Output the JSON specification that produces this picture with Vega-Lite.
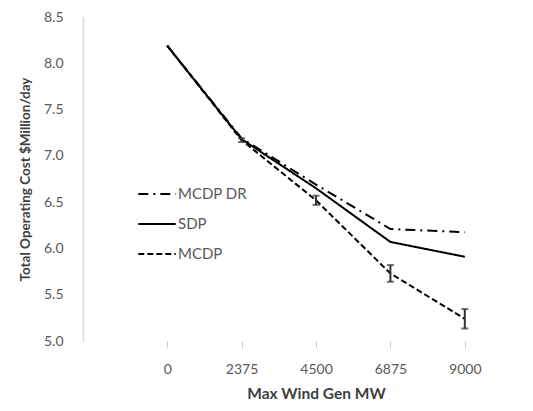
{
  "$schema": "https://vega.github.io/schema/vega-lite/v6.json",
  "autosize": {"type": "none"},
  "width": 440,
  "height": 324,
  "padding": {"left": 83, "top": 17, "right": 10, "bottom": 70},
  "background": "white",
  "config": {
    "view": {"stroke": null},
    "font": "Lato",
    "axis": {"labelFont": "Lato", "titleFont": "Lato", "labelColor": "#595959", "titleColor": "#404040", "grid": false}
  },
  "datasets": {
    "lines": [
      {"mw": "0", "series": "MCDP DR", "cost": 8.19},
      {"mw": "2375", "series": "MCDP DR", "cost": 7.19},
      {"mw": "4500", "series": "MCDP DR", "cost": 6.69},
      {"mw": "6875", "series": "MCDP DR", "cost": 6.21},
      {"mw": "9000", "series": "MCDP DR", "cost": 6.175},
      {"mw": "0", "series": "MCDP", "cost": 8.19},
      {"mw": "2375", "series": "MCDP", "cost": 7.17},
      {"mw": "4500", "series": "MCDP", "cost": 6.52},
      {"mw": "6875", "series": "MCDP", "cost": 5.73},
      {"mw": "9000", "series": "MCDP", "cost": 5.24},
      {"mw": "0", "series": "SDP", "cost": 8.19},
      {"mw": "2375", "series": "SDP", "cost": 7.18},
      {"mw": "4500", "series": "SDP", "cost": 6.65},
      {"mw": "6875", "series": "SDP", "cost": 6.07},
      {"mw": "9000", "series": "SDP", "cost": 5.91}
    ],
    "errors": [
      {"mw": "2375", "lo": 7.15, "hi": 7.19},
      {"mw": "4500", "lo": 6.47, "hi": 6.57},
      {"mw": "6875", "lo": 5.64, "hi": 5.82},
      {"mw": "9000", "lo": 5.135, "hi": 5.345}
    ]
  },
  "layer": [
    {
      "data": {"name": "lines"},
      "mark": {"type": "line", "color": "black", "strokeWidth": 2},
      "encoding": {
        "x": {
          "field": "mw", "type": "ordinal", "sort": ["0", "2375", "4500", "6875", "9000"],
          "scale": {"type": "point", "range": [47, 419]},
          "axis": {
            "domain": false, "ticks": true, "tickColor": "#c8c8c8", "tickSize": 6,
            "labelAngle": 0, "labelFontSize": 14, "labelPadding": 15,
            "title": "Max Wind Gen MW", "titleFontSize": 15.5, "titleFontWeight": "bold",
            "titleX": 233, "titleY": 57, "titleBaseline": "alphabetic"
          }
        },
        "y": {
          "field": "cost", "type": "quantitative",
          "scale": {"domain": [5, 8.5], "nice": false, "zero": false},
          "axis": {
            "values": [5, 5.5, 6, 6.5, 7, 7.5, 8, 8.5], "format": ".1f",
            "domain": true, "domainColor": "#d9d9d9", "domainWidth": 1.5, "ticks": false,
            "labelFontSize": 14, "labelPadding": 20,
            "title": "Total Operating Cost $Million/day", "titleFontSize": 13.5, "titleFontWeight": "bold",
            "titleX": -54, "titleY": 162, "titleAngle": -90, "titleAlign": "center", "titleBaseline": "alphabetic"
          }
        },
        "strokeDash": {
          "field": "series", "type": "nominal",
          "scale": {"domain": ["MCDP DR", "SDP", "MCDP"], "range": [[10, 5, 2, 5], [1, 0], [6, 3]]},
          "legend": {
            "title": null, "orient": "none", "legendX": 54, "legendY": 162,
            "symbolType": "stroke", "symbolSize": 1400, "symbolStrokeWidth": 2, "symbolStrokeColor": "black",
            "labelFontSize": 15, "labelColor": "#595959", "labelOffset": 1, "clipHeight": 30, "rowPadding": 0
          }
        }
      }
    },
    {
      "data": {"name": "errors"},
      "mark": {"type": "rule", "color": "#333333", "strokeWidth": 2},
      "encoding": {
        "x": {"field": "mw", "type": "ordinal", "sort": ["0", "2375", "4500", "6875", "9000"]},
        "y": {"field": "lo", "type": "quantitative"},
        "y2": {"field": "hi"}
      }
    },
    {
      "data": {"name": "errors"},
      "mark": {"type": "tick", "color": "#333333", "size": 7, "thickness": 2, "orient": "horizontal"},
      "encoding": {
        "x": {"field": "mw", "type": "ordinal", "sort": ["0", "2375", "4500", "6875", "9000"]},
        "y": {"field": "lo", "type": "quantitative"}
      }
    },
    {
      "data": {"name": "errors"},
      "mark": {"type": "tick", "color": "#333333", "size": 7, "thickness": 2, "orient": "horizontal"},
      "encoding": {
        "x": {"field": "mw", "type": "ordinal", "sort": ["0", "2375", "4500", "6875", "9000"]},
        "y": {"field": "hi", "type": "quantitative"}
      }
    }
  ]
}
